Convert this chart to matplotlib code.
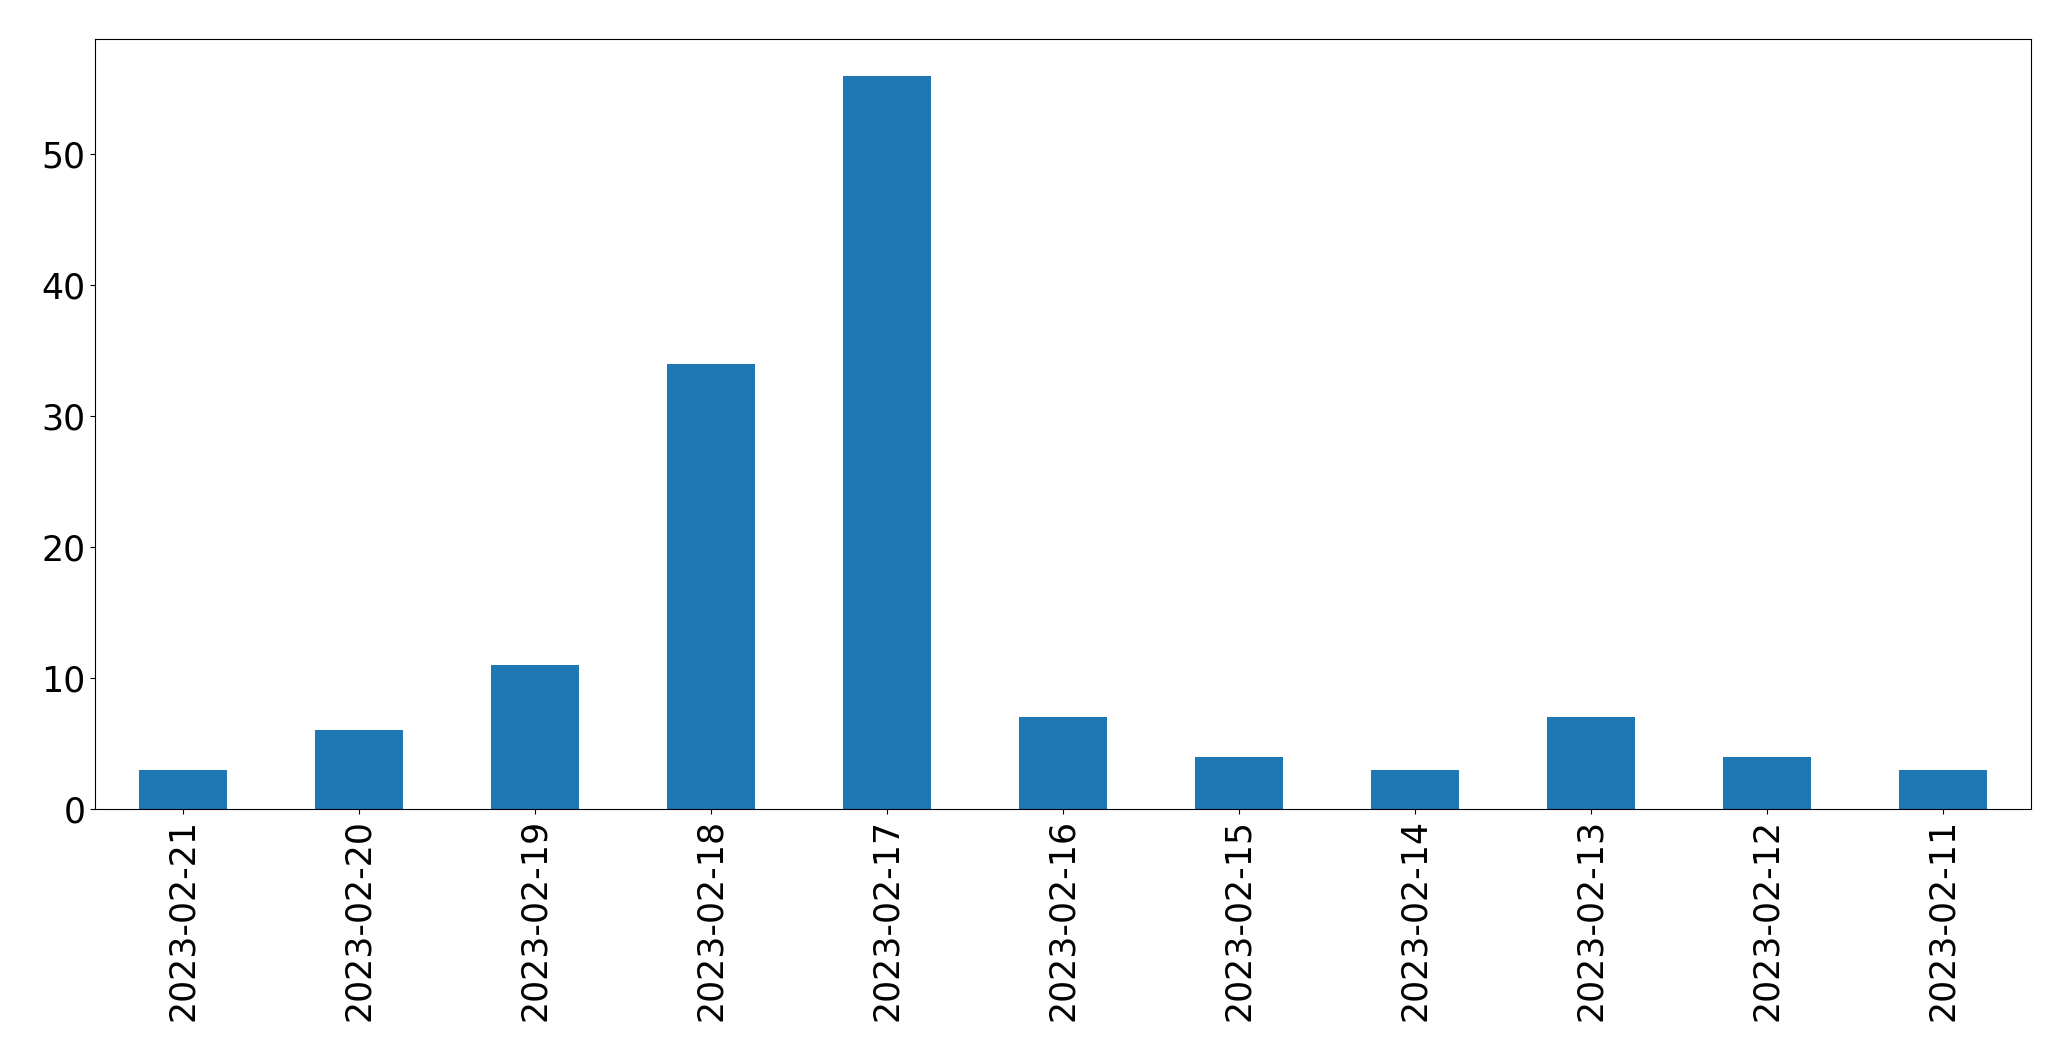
import matplotlib
matplotlib.use("Agg")
import matplotlib.pyplot as plt
import numpy as np

dates = ["2023-02-21", "2023-02-20", "2023-02-19", "2023-02-18", "2023-02-17",
         "2023-02-16", "2023-02-15", "2023-02-14", "2023-02-13", "2023-02-12",
         "2023-02-11"]
counts = [3, 6, 11, 34, 56, 7, 4, 3, 7, 4, 3]

W, H = 2071, 1061
fig = plt.figure(figsize=(W / 100, H / 100), dpi=100)
ax = fig.add_axes([95 / W, (H - 809) / H, (2031 - 95) / W, (809 - 39) / H])
x = np.arange(len(dates))
ax.bar(x, counts, width=0.5, color="#1f77b4")
ax.set_xlim(-0.5, len(dates) - 0.5)
ax.set_xticks(x)
ax.set_xticklabels(dates, rotation=90)
ax.tick_params(axis="both", labelsize=25)
fig.savefig("out.png", dpi=100)
